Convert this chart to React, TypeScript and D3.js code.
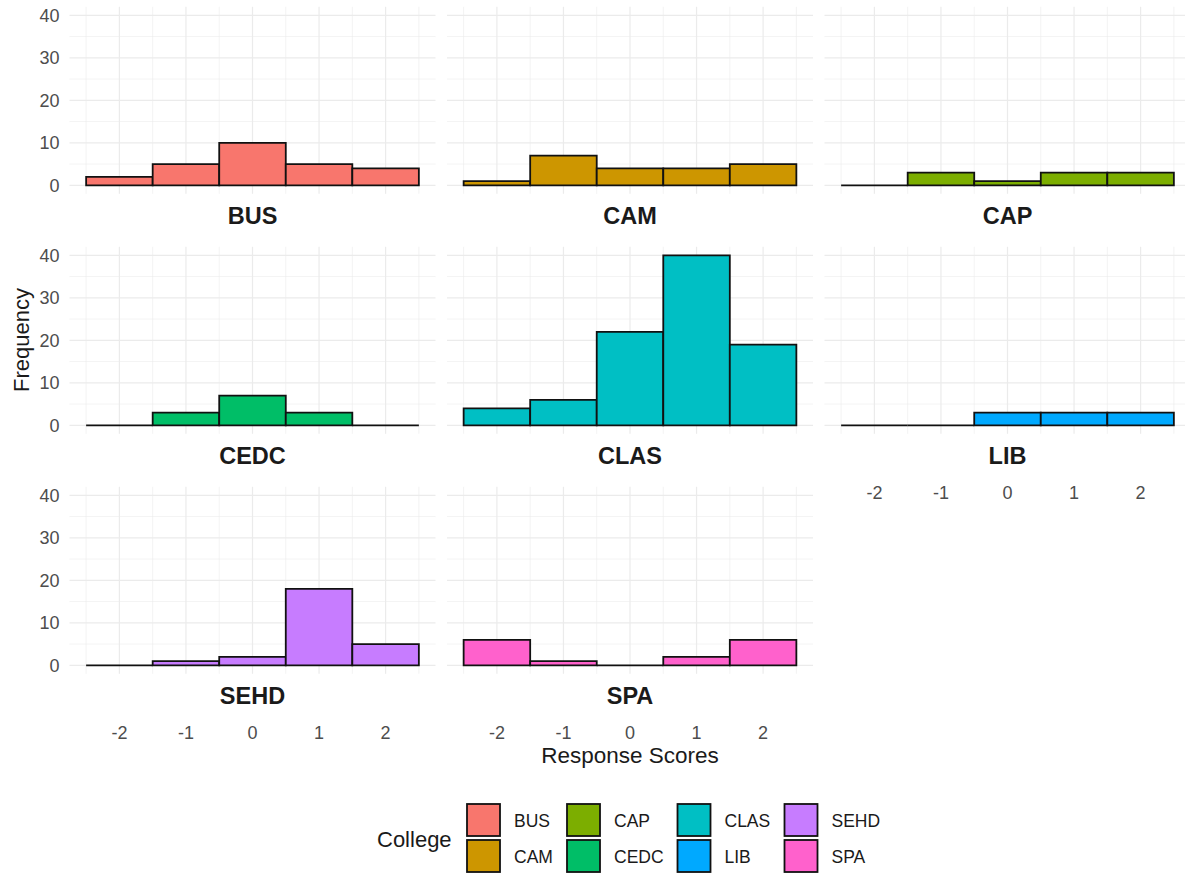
import React from "react";
import * as d3 from "d3";

const colleges = ["BUS", "CAM", "CAP", "CEDC", "CLAS", "LIB", "SEHD", "SPA"];
const colors = ["#F8766D", "#CD9600", "#7CAE00", "#00BE67", "#00BFC4", "#00A9FF", "#C77CFF", "#FF61CC"];
const scores = [-2, -1, 0, 1, 2];
const counts: Record<string, number[]> = {
  BUS: [2, 5, 10, 5, 4],
  CAM: [1, 7, 4, 4, 5],
  CAP: [0, 3, 1, 3, 3],
  CEDC: [0, 3, 7, 3, 0],
  CLAS: [4, 6, 22, 40, 19],
  LIB: [0, 0, 3, 3, 3],
  SEHD: [0, 1, 2, 18, 5],
  SPA: [6, 1, 0, 2, 6],
};
const yTicks = [0, 10, 20, 30, 40];
const yMinor = [5, 15, 25, 35];
const xMinor = [-2.5, -1.5, -0.5, 0.5, 1.5, 2.5];

const FONT = "'Liberation Sans', Arial, sans-serif";
const colLefts = [69.5, 447, 824.5];
const rowTops = [6.8, 246.8, 486.8];
const PW = 366;
const PH = 187;

function barPath(x0: number, x1: number, y0: number, y1: number) {
  const p = d3.path();
  p.moveTo(x0, y0);
  p.lineTo(x0, y1);
  p.lineTo(x1, y1);
  p.lineTo(x1, y0);
  p.closePath();
  return p.toString();
}

function Panel({ name, idx }: { name: string; idx: number }) {
  const col = idx % 3;
  const row = Math.floor(idx / 3);
  const left = colLefts[col];
  const top = rowTops[row];
  const x = d3.scaleLinear().domain([-2.75, 2.75]).range([left, left + PW]);
  const y = d3.scaleLinear().domain([-2, 42]).range([top + PH, top]);
  const vals = counts[name];
  const showY = col === 0;
  const showX = idx >= 5;
  return (
    <g>
      {yMinor.map((t) => (
        <line key={"ym" + t} x1={left} x2={left + PW} y1={y(t)} y2={y(t)} stroke="#EBEBEB" strokeWidth={0.6} />
      ))}
      {xMinor.map((t) => (
        <line key={"xm" + t} x1={x(t)} x2={x(t)} y1={top} y2={top + PH} stroke="#EBEBEB" strokeWidth={0.6} />
      ))}
      {yTicks.map((t) => (
        <line key={"y" + t} x1={left} x2={left + PW} y1={y(t)} y2={y(t)} stroke="#EBEBEB" strokeWidth={1.2} />
      ))}
      {scores.map((t) => (
        <line key={"x" + t} x1={x(t)} x2={x(t)} y1={top} y2={top + PH} stroke="#EBEBEB" strokeWidth={1.2} />
      ))}
      {vals.map((v, i) => (
        <path
          key={i}
          d={barPath(x(scores[i] - 0.5), x(scores[i] + 0.5), y(0), y(v))}
          fill={colors[colleges.indexOf(name)]}
          stroke="#111"
          strokeWidth={1.8}
          strokeLinejoin="miter"
        />
      ))}
      {showY &&
        yTicks.map((t) => (
          <text key={"yl" + t} x={left - 10} y={y(t)} dy="0.36em" textAnchor="end" fontSize={18} fill="#4D4D4D" fontFamily={FONT}>
            {t}
          </text>
        ))}
      <text x={left + PW / 2} y={y(0) + 39} textAnchor="middle" fontSize={23.5} fontWeight="bold" fill="#1A1A1A" fontFamily={FONT}>
        {name}
      </text>
      {showX &&
        scores.map((t) => (
          <text key={"xl" + t} x={x(t)} y={y(0) + 74} textAnchor="middle" fontSize={18} fill="#4D4D4D" fontFamily={FONT}>
            {t}
          </text>
        ))}
    </g>
  );
}

export default function App() {
  const legendCols = [467, 567, 677.5, 784.5];
  const legendRows = [804, 840];
  return (
    <svg width={1185} height={873} style={{ position: "absolute", left: 0, top: 0, background: "#fff" }}>
      <rect width={1185} height={873} fill="#fff" />
      {colleges.map((c, i) => (
        <Panel key={c} name={c} idx={i} />
      ))}
      <text
        transform="translate(28.5,340) rotate(-90)"
        textAnchor="middle"
        fontSize={22}
        fill="#1A1A1A"
        fontFamily={FONT}
      >
        Frequency
      </text>
      <text x={630} y={763} textAnchor="middle" fontSize={22.5} fill="#1A1A1A" fontFamily={FONT}>
        Response Scores
      </text>
      <text x={377} y={847} fontSize={22} fill="#1A1A1A" fontFamily={FONT}>
        College
      </text>
      {colleges.map((c, i) => {
        const cx = legendCols[Math.floor(i / 2)];
        const cy = legendRows[i % 2];
        return (
          <g key={"lg" + c}>
            <rect x={cx} y={cy} width={33} height={32} fill={colors[i]} stroke="#111" strokeWidth={1.8} />
            <text x={cx + 47} y={cy + 22.5} fontSize={17.5} fill="#1A1A1A" fontFamily={FONT}>
              {c}
            </text>
          </g>
        );
      })}
    </svg>
  );
}
